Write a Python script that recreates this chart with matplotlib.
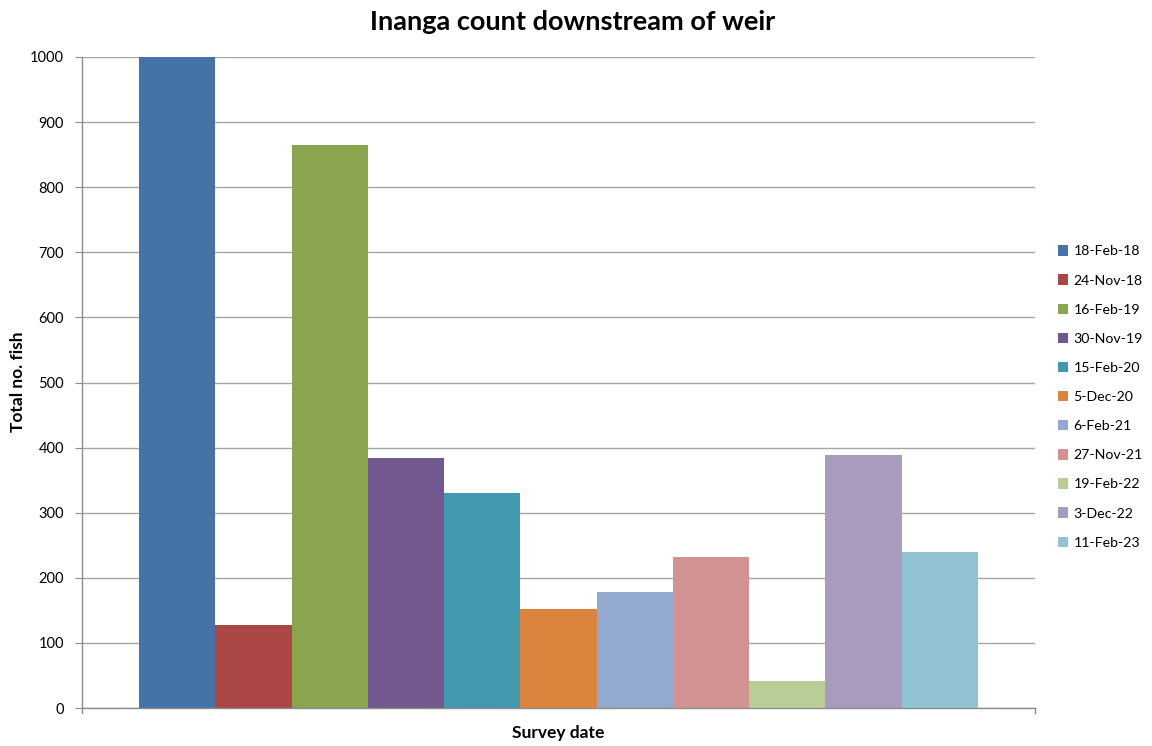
import matplotlib
matplotlib.use("Agg")
import matplotlib.pyplot as plt
from matplotlib.patches import Patch

survey_dates = ["18-Feb-18", "24-Nov-18", "16-Feb-19", "30-Nov-19", "15-Feb-20",
                "5-Dec-20", "6-Feb-21", "27-Nov-21", "19-Feb-22", "3-Dec-22", "11-Feb-23"]
fish_counts = [1000, 128, 865, 384, 330, 152, 178, 232, 41, 389, 240]
bar_colors = ["#4572A7", "#AA4643", "#89A54E", "#71588F", "#4198AF", "#DB843D",
              "#93A9CF", "#D19392", "#B9CD96", "#A99BBD", "#92C3D4"]
y_ticks = list(range(0, 1001, 100))

plt.rcParams["font.family"] = ["Lato", "DejaVu Sans"]

W, H = 1152, 746
fig = plt.figure(figsize=(W / 100, H / 100), dpi=100)
ax = fig.add_axes([82 / W, 1 - 708 / H, (1035 - 82) / W, (708 - 57) / H])

positions = list(range(len(fish_counts)))
ax.bar(positions, fish_counts, width=1.0, color=bar_colors, zorder=2, linewidth=0)

ax.set_xlim(-1.25, len(fish_counts) - 1 + 1.25)
ax.set_ylim(0, 1000)
ax.set_yticks(y_ticks)
ax.set_yticklabels([str(v) for v in y_ticks], fontsize=10.5)
ax.set_xticks([])
ax.grid(axis="y", color="#A6A6A6", linewidth=1.0, zorder=1)

for side in ["top", "right"]:
    ax.spines[side].set_visible(False)
for side in ["left", "bottom"]:
    ax.spines[side].set_color("#8C8C8C")
    ax.spines[side].set_linewidth(1.0)
ax.tick_params(axis="y", direction="out", length=5, color="#8C8C8C", pad=8)

# Small end ticks beneath the category axis
for xe in ax.get_xlim():
    ax.plot([xe, xe], [0, -8], color="#8C8C8C", linewidth=1.0, clip_on=False)
ax.set_ylim(0, 1000)

fig.text(18 / W, 1 - 382 / H, "Total no. fish", rotation=90, ha="center", va="center",
         fontsize=12.5, fontweight="bold")
fig.text(558 / W, 1 - 733 / H, "Survey date", ha="center", va="center",
         fontsize=12.5, fontweight="bold")
fig.text(573 / W, 1 - 22 / H, "Inanga count downstream of weir", ha="center", va="center",
         fontsize=19.5, fontweight="bold")

handles = [Patch(facecolor=c, edgecolor="none") for c in bar_colors]
fig.legend(handles, survey_dates, loc="center left", bbox_to_anchor=(1045 / W, 1 - 397 / H),
           frameon=False, fontsize=10.2, handlelength=0.75, handleheight=0.75,
           handletextpad=0.35, labelspacing=1.2)

fig.savefig("out.png", dpi=100)
